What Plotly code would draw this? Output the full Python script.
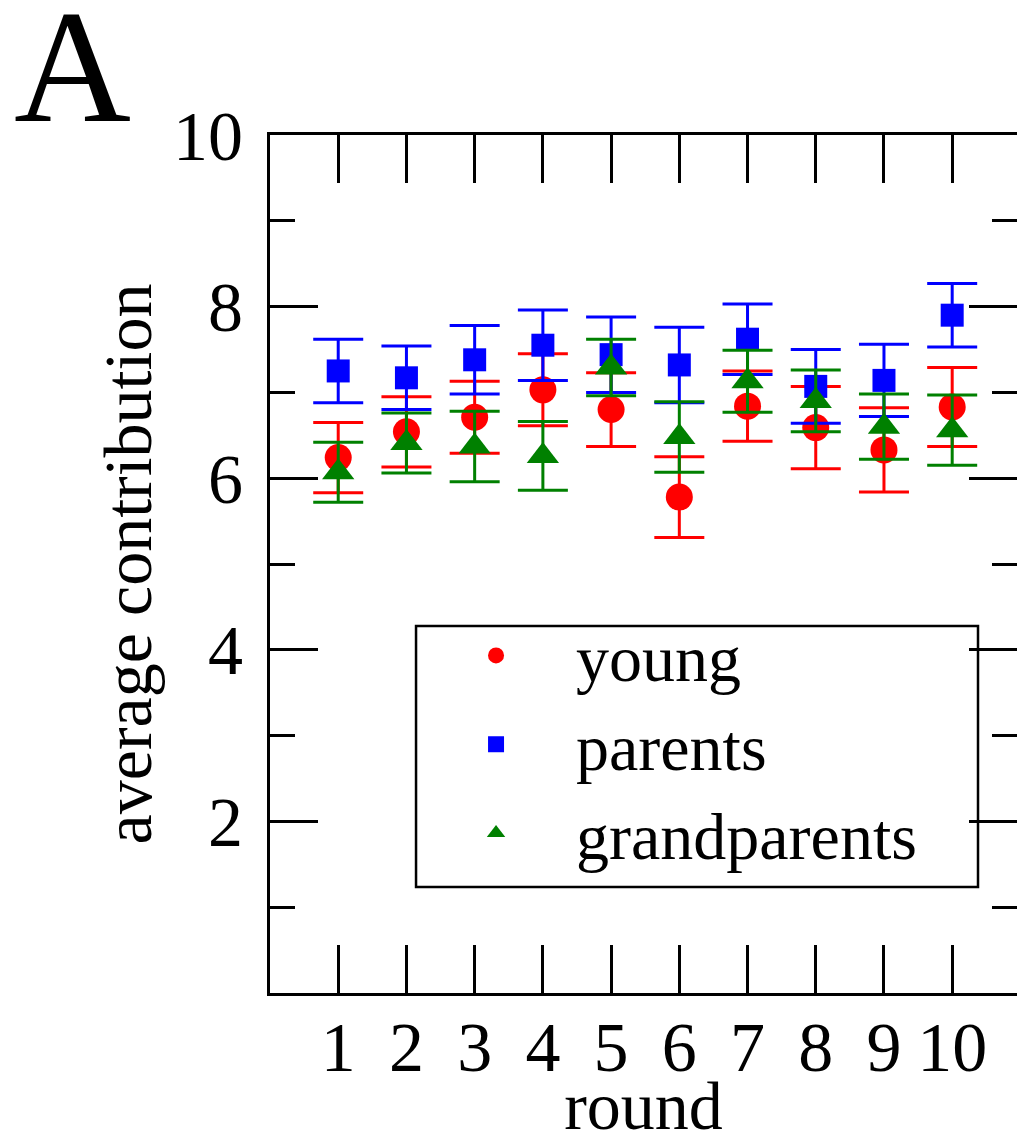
import plotly.graph_objects as go

rounds = [1, 2, 3, 4, 5, 6, 7, 8, 9, 10]
young = [6.24, 6.54, 6.71, 7.03, 6.80, 5.78, 6.84, 6.59, 6.33, 6.83]
young_err = [0.41, 0.41, 0.42, 0.42, 0.43, 0.47, 0.41, 0.48, 0.49, 0.46]
parents = [7.25, 7.17, 7.38, 7.55, 7.44, 7.32, 7.62, 7.07, 7.14, 7.90]
parents_err = [0.37, 0.37, 0.40, 0.41, 0.44, 0.44, 0.41, 0.43, 0.42, 0.37]
grandparents = [6.07, 6.41, 6.37, 6.26, 7.29, 6.48, 7.13, 6.90, 6.60, 6.56]
grandparents_err = [0.35, 0.35, 0.41, 0.40, 0.33, 0.41, 0.36, 0.36, 0.38, 0.41]

x_ticks = [1, 2, 3, 4, 5, 6, 7, 8, 9, 10]
y_ticks = [2, 4, 6, 8, 10]
y_minor = [1, 3, 5, 7, 9]

FONT = "Liberation Serif"

series = [
    ("young", young, young_err, "#ff0000", "circle", 27),
    ("parents", parents, parents_err, "#0000ff", "square", 23),
    ("grandparents", grandparents, grandparents_err, "#008000", "triangle-up", 28),
]

fig = go.Figure()
for name, vals, errs, color, symbol, size in series:
    fig.add_trace(go.Scatter(
        x=rounds, y=vals, mode="markers", name=name,
        marker=dict(color=color, symbol=symbol, size=size, line=dict(width=0)),
        error_y=dict(type="data", array=errs, visible=True, color=color,
                     thickness=3, width=25),
    ))

axis_common = dict(
    showline=True, linecolor="black", linewidth=3, mirror="ticks",
    ticks="inside", tickcolor="black", tickwidth=2.5, ticklen=48,
    showgrid=False, zeroline=False, automargin=False,
    tickfont=dict(family=FONT, size=70, color="black"),
)

fig.update_xaxes(
    range=[0, 10.95], tickvals=x_ticks, ticktext=[str(v) for v in x_ticks],
    title=dict(text="round", font=dict(family=FONT, size=68, color="black"), standoff=16),
    ticklabelstandoff=-9,
    **axis_common,
)
fig.update_yaxes(
    range=[0, 10], tickvals=y_ticks, ticktext=[str(v) for v in y_ticks],
    minor=dict(tickvals=y_minor, ticks="inside", ticklen=25, tickwidth=2.5, tickcolor="black"),
    title=dict(text="average contribution", font=dict(family=FONT, size=68, color="black"), standoff=0),
    ticklabelstandoff=10,
    **axis_common,
)

fig.add_annotation(
    text="A", xref="paper", yref="paper", x=-0.265, y=1.08,
    xanchor="center", yanchor="middle", showarrow=False,
    font=dict(family=FONT, size=162, color="black"),
)

# legend frame
fig.add_shape(
    type="rect", xref="paper", yref="paper",
    x0=0.1955, x1=0.9478, y0=0.1235, y1=0.4277,
    line=dict(color="black", width=2.5), fillcolor="white", layer="below",
)

fig.update_layout(
    width=1017, height=1144,
    margin=dict(l=270, r=0, t=135, b=151, autoexpand=False),
    paper_bgcolor="white", plot_bgcolor="white",
    font=dict(family=FONT, color="black"),
    legend=dict(
        x=0.1955, y=0.4510, xanchor="left", yanchor="top",
        borderwidth=0, bgcolor="rgba(0,0,0,0)",
        font=dict(family=FONT, size=66, color="black"),
        itemwidth=150,
    ),
)

fig.write_html("out.html")
